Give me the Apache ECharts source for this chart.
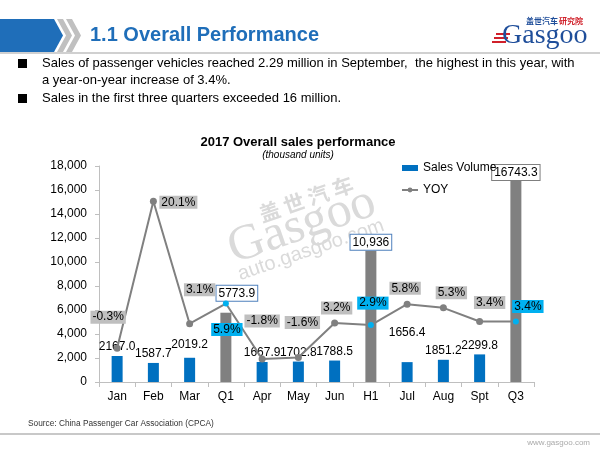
<!DOCTYPE html>
<html><head><meta charset="utf-8">
<script src="https://cdn.jsdelivr.net/npm/echarts@6/dist/echarts.min.js"></script>
<style>html,body{margin:0;padding:0;background:#fff}#c{width:600px;height:450px}</style>
</head><body><div id="c"></div>
<script>
// ---- data ----
const categories = ['Jan','Feb','Mar','Q1','Apr','May','Jun','H1','Jul','Aug','Spt','Q3'];
const salesVolume = [2167.0,1587.7,2019.2,5773.9,1667.9,1702.8,1788.5,10936,1656.4,1851.2,2299.8,16743.3];
const salesLabels = ['2167.0','1587.7','2019.2','5773.9','1667.9','1702.8','1788.5','10,936','1656.4','1851.2','2299.8','16743.3'];
const yoy = [-0.3,20.1,3.1,5.9,-1.8,-1.6,3.2,2.9,5.8,5.3,3.4,3.4];
const summaryCategories = ['Q1','H1','Q3'];
const bullets = [
  'Sales of passenger vehicles reached 2.29 million in September,  the highest in this year, with',
  'a year-on-year increase of 3.4%.',
  'Sales in the first three quarters exceeded 16 million.'
];

// ---- styles ----
const FONT = 'Liberation Sans, Arial, sans-serif';
const BLUE = '#0070C0', GRAY = '#808080', CYAN = '#00B0F0';
const barLabelOffsets = {Mar:[0,-4], Jul:[0,-20], Q1:[11,-11], H1:[0,0], Q3:[0,0]};
const summaryBorder = {Q1:'#4F81BD', H1:'#4F81BD', Q3:'#7F7F7F'};
const yoyOffsets = [[-9,-31],[25,1],[10,-34],[1,26],[0,-38],[4,-35],[2,-15],[2,-22],[-2,-16],[8,-15],[10,-19],[12,-15]];

const isSummary = c => summaryCategories.indexOf(c) >= 0;

const barData = salesVolume.map((v,i)=>{
  const c = categories[i];
  const sum = isSummary(c);
  const lab = {
    show:true, position:'top', distance: sum ? 1 : 3,
    offset: barLabelOffsets[c] || [0,0],
    formatter: salesLabels[i], color:'#000', fontSize:12, fontFamily:FONT
  };
  if (sum) Object.assign(lab, {backgroundColor:'#fff', borderColor:summaryBorder[c], borderWidth:1, padding:[2,2,1,2]});
  return {value:v, itemStyle:{color: sum ? GRAY : BLUE}, label:lab};
});

const lineData = yoy.map((v,i)=>{
  const c = categories[i];
  const sum = isSummary(c);
  const d = {
    value:v,
    label:{show:true, position:'inside', offset:yoyOffsets[i], formatter: v.toFixed(1)+'%',
      color:'#000', fontSize:12, fontFamily:FONT, backgroundColor: sum ? CYAN : '#BFBFBF', padding:[1,2,0,2]}
  };
  if (sum) { d.itemStyle = {color:CYAN}; d.symbolSize = 6; }
  return d;
});

const chart = echarts.init(document.getElementById('c'), null, {renderer:'canvas'});
const rot = 19*Math.PI/180;
chart.setOption({
  backgroundColor:'#fff',
  animation:false,
  textStyle:{fontFamily:FONT},
  grid:{left:99, right:66, top:166, bottom:68},
  legend:{
    orient:'vertical', left:401, top:162, padding:0, itemGap:10, itemWidth:16, itemHeight:6,
    textStyle:{fontSize:12, color:'#000', fontFamily:FONT},
    data:[{name:'Sales Volume', icon:'rect'}, {name:'YOY'}]
  },
  xAxis:{
    type:'category', data:categories,
    axisLine:{lineStyle:{color:'#BFBFBF', width:1}},
    axisTick:{show:true, length:5, lineStyle:{color:'#BFBFBF'}},
    axisLabel:{color:'#000', fontSize:12, margin:9, fontFamily:FONT}
  },
  yAxis:[{
    type:'value', min:0, max:18000, interval:2000,
    axisLine:{show:true, lineStyle:{color:'#BFBFBF', width:1}},
    axisTick:{show:true, length:4, lineStyle:{color:'#BFBFBF'}},
    splitLine:{show:false},
    axisLabel:{color:'#000', fontSize:12, margin:12, fontFamily:FONT,
      formatter:v=>v.toLocaleString('en-US')}
  },{
    type:'value', min:-5, max:25, show:false, splitLine:{show:false}
  }],
  series:[{
    name:'Sales Volume', type:'bar', data:barData, barWidth:11,
    itemStyle:{color:BLUE}, z:2
  },{
    name:'YOY', type:'line', yAxisIndex:1, data:lineData,
    symbol:'circle', symbolSize:7, itemStyle:{color:GRAY},
    lineStyle:{color:GRAY, width:2}, z:3
  }],
  graphic:[
    // watermark
    {type:'text', x:306, y:199, rotation:rot, z:-1, silent:true,
      style:{text:'盖 世 汽 车', fill:'#DADADA', font:'bold 21px "Noto Sans CJK SC"', align:'center', verticalAlign:'middle'}},
    {type:'text', x:302, y:226, rotation:rot, z:-1, silent:true,
      style:{text:'Gasgoo', fill:'#DADADA', font:'50px "Liberation Serif", serif', align:'center', verticalAlign:'middle'}},
    {type:'text', x:311, y:250, rotation:rot, z:-1, silent:true,
      style:{text:'auto.gasgoo.com', fill:'#DADADA', font:'20px "Liberation Sans"', align:'center', verticalAlign:'middle'}},
    // header
    {type:'line', shape:{x1:0, y1:53, x2:600, y2:53}, style:{stroke:'#D0D0D0', lineWidth:2}},
    {type:'polygon', shape:{points:[[0,19],[54,19],[63,35.5],[54,52],[0,52]]}, style:{fill:'#1F6EB9'}},
    {type:'polygon', shape:{points:[[57,19],[63,19],[72,35.5],[63,52],[57,52],[66,35.5]]}, style:{fill:'#C0C0C0'}},
    {type:'polygon', shape:{points:[[66,19],[72,19],[81,35.5],[72,52],[66,52],[75,35.5]]}, style:{fill:'#C0C0C0'}},
    {type:'text', x:90, y:35, style:{text:'1.1 Overall Performance', fill:'#1F6EB9', font:'bold 20px "Liberation Sans"', verticalAlign:'middle'}},
    // logo
    {type:'text', x:526, y:21, style:{text:'盖世汽车', fill:'#1F4E9A', font:'bold 8px "Noto Sans CJK SC"', verticalAlign:'middle'}},
    {type:'text', x:559, y:21, style:{text:'研究院', fill:'#D0202A', font:'bold 8px "Noto Sans CJK SC"', verticalAlign:'middle'}},
    {type:'rect', shape:{x:496, y:33, width:14, height:2}, style:{fill:'#D0202A'}},
    {type:'rect', shape:{x:494, y:37, width:14, height:2}, style:{fill:'#D0202A'}},
    {type:'rect', shape:{x:492, y:41, width:14, height:2}, style:{fill:'#D0202A'}},
    {type:'text', x:502, y:36, style:{text:'Gasgoo', fill:'#1F4E9A', font:'28px "Liberation Serif", serif', verticalAlign:'middle'}},
    // bullets
    {type:'rect', shape:{x:18, y:59, width:9, height:9}, style:{fill:'#000'}},
    {type:'rect', shape:{x:18, y:94, width:9, height:9}, style:{fill:'#000'}},
    {type:'text', x:42, y:63, style:{text:bullets[0], fill:'#000', font:'13px "Liberation Sans"', verticalAlign:'middle'}},
    {type:'text', x:42, y:80, style:{text:bullets[1], fill:'#000', font:'13px "Liberation Sans"', verticalAlign:'middle'}},
    {type:'text', x:42, y:98, style:{text:bullets[2], fill:'#000', font:'13px "Liberation Sans"', verticalAlign:'middle'}},
    // chart title
    {type:'text', x:298, y:142, style:{text:'2017 Overall sales performance', fill:'#000', font:'bold 13px "Liberation Sans"', align:'center', verticalAlign:'middle'}},
    {type:'text', x:298, y:155, style:{text:'(thousand units)', fill:'#000', font:'italic 10px "Liberation Sans"', align:'center', verticalAlign:'middle'}},
    // footer
    {type:'text', x:28, y:424, style:{text:'Source: China Passenger Car Association (CPCA)', fill:'#333', font:'8.3px "Liberation Sans"', verticalAlign:'middle'}},
    {type:'line', shape:{x1:0, y1:434, x2:600, y2:434}, style:{stroke:'#C8C8C8', lineWidth:2}},
    {type:'text', x:590, y:443, style:{text:'www.gasgoo.com', fill:'#AAAAAA', font:'8px "Liberation Sans"', align:'right', verticalAlign:'middle'}}
  ]
});
</script>
</body></html>
